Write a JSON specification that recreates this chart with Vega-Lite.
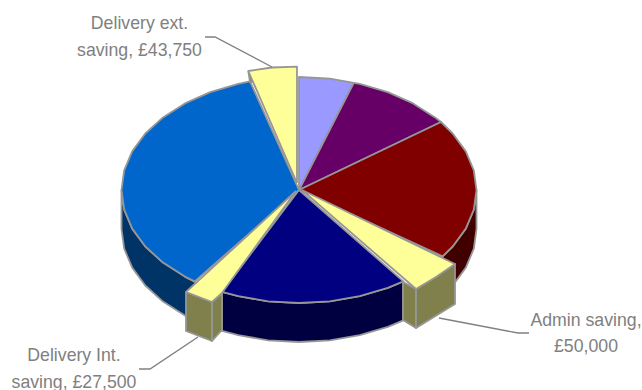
{
  "$schema": "https://vega.github.io/schema/vega-lite/v6.json",
  "autosize": {"type": "none"},
  "width": 642,
  "height": 390,
  "padding": 0,
  "background": "white",
  "view": {"stroke": null},
  "datasets": {
    "faces": [
      {"part":"Blue wall","i":0,"x":121.5,"y":190},{"part":"Blue wall","i":1,"x":124.2,"y":209.6},{"part":"Blue wall","i":2,"x":132.2,"y":228.6},{"part":"Blue wall","i":3,"x":145.3,"y":246.5},{"part":"Blue wall","i":4,"x":163,"y":262.6},{"part":"Blue wall","i":5,"x":184.9,"y":276.6},{"part":"Blue wall","i":6,"x":195,"y":282},{"part":"Blue wall","i":7,"x":195,"y":321},{"part":"Blue wall","i":8,"x":184.9,"y":315.6},{"part":"Blue wall","i":9,"x":163,"y":301.6},{"part":"Blue wall","i":10,"x":145.3,"y":285.5},{"part":"Blue wall","i":11,"x":132.2,"y":267.6},{"part":"Blue wall","i":12,"x":124.2,"y":248.6},{"part":"Blue wall","i":13,"x":121.5,"y":229},{"part":"Blue wall","i":14,"x":121.5,"y":190},

      {"part":"Navy wall","i":0,"x":403.3,"y":281.4},{"part":"Navy wall","i":1,"x":387.8,"y":287.9},{"part":"Navy wall","i":2,"x":359.7,"y":296.2},{"part":"Navy wall","i":3,"x":329.8,"y":301.3},{"part":"Navy wall","i":4,"x":299,"y":303},{"part":"Navy wall","i":5,"x":268.2,"y":301.3},{"part":"Navy wall","i":6,"x":238.3,"y":296.2},{"part":"Navy wall","i":7,"x":222,"y":291.8},{"part":"Navy wall","i":8,"x":222,"y":330.8},{"part":"Navy wall","i":9,"x":238.3,"y":335.2},{"part":"Navy wall","i":10,"x":268.2,"y":340.3},{"part":"Navy wall","i":11,"x":299,"y":342},{"part":"Navy wall","i":12,"x":329.8,"y":340.3},{"part":"Navy wall","i":13,"x":359.7,"y":335.2},{"part":"Navy wall","i":14,"x":387.8,"y":326.9},{"part":"Navy wall","i":15,"x":403.3,"y":320.4},{"part":"Navy wall","i":16,"x":403.3,"y":281.4},

      {"part":"Red wall","i":0,"x":476.5,"y":190},{"part":"Red wall","i":1,"x":473.8,"y":209.6},{"part":"Red wall","i":2,"x":465.8,"y":228.6},{"part":"Red wall","i":3,"x":452.7,"y":246.5},{"part":"Red wall","i":4,"x":442.6,"y":256.4},{"part":"Red wall","i":5,"x":442.6,"y":295.4},{"part":"Red wall","i":6,"x":452.7,"y":285.5},{"part":"Red wall","i":7,"x":465.8,"y":267.6},{"part":"Red wall","i":8,"x":473.8,"y":248.6},{"part":"Red wall","i":9,"x":476.5,"y":229},{"part":"Red wall","i":10,"x":476.5,"y":190},

      {"part":"Lilac","i":0,"x":299,"y":190},{"part":"Lilac","i":1,"x":299,"y":77},{"part":"Lilac","i":2,"x":329.8,"y":78.7},{"part":"Lilac","i":3,"x":353.8,"y":82.8},{"part":"Lilac","i":4,"x":299,"y":190},

      {"part":"Purple","i":0,"x":299,"y":190},{"part":"Purple","i":1,"x":353.8,"y":82.8},{"part":"Purple","i":2,"x":359.7,"y":83.8},{"part":"Purple","i":3,"x":387.8,"y":92.1},{"part":"Purple","i":4,"x":413.1,"y":103.4},{"part":"Purple","i":5,"x":435,"y":117.4},{"part":"Purple","i":6,"x":441,"y":122},{"part":"Purple","i":7,"x":299,"y":190},

      {"part":"Red","i":0,"x":299,"y":190},{"part":"Red","i":1,"x":441,"y":122},{"part":"Red","i":2,"x":452.7,"y":133.5},{"part":"Red","i":3,"x":465.8,"y":151.4},{"part":"Red","i":4,"x":473.8,"y":170.4},{"part":"Red","i":5,"x":476.5,"y":190},{"part":"Red","i":6,"x":473.8,"y":209.6},{"part":"Red","i":7,"x":465.8,"y":228.6},{"part":"Red","i":8,"x":452.7,"y":246.5},{"part":"Red","i":9,"x":442.6,"y":256.4},{"part":"Red","i":10,"x":299,"y":190},

      {"part":"Navy","i":0,"x":299,"y":190},{"part":"Navy","i":1,"x":403.3,"y":281.4},{"part":"Navy","i":2,"x":387.8,"y":287.9},{"part":"Navy","i":3,"x":359.7,"y":296.2},{"part":"Navy","i":4,"x":329.8,"y":301.3},{"part":"Navy","i":5,"x":299,"y":303},{"part":"Navy","i":6,"x":268.2,"y":301.3},{"part":"Navy","i":7,"x":238.3,"y":296.2},{"part":"Navy","i":8,"x":222,"y":291.8},{"part":"Navy","i":9,"x":299,"y":190},

      {"part":"Blue","i":0,"x":299,"y":190},{"part":"Blue","i":1,"x":194.7,"y":281.4},{"part":"Blue","i":2,"x":184.9,"y":276.6},{"part":"Blue","i":3,"x":163,"y":262.6},{"part":"Blue","i":4,"x":145.3,"y":246.5},{"part":"Blue","i":5,"x":132.2,"y":228.6},{"part":"Blue","i":6,"x":124.2,"y":209.6},{"part":"Blue","i":7,"x":121.5,"y":190},{"part":"Blue","i":8,"x":124.2,"y":170.4},{"part":"Blue","i":9,"x":132.2,"y":151.4},{"part":"Blue","i":10,"x":145.3,"y":133.5},{"part":"Blue","i":11,"x":163,"y":117.4},{"part":"Blue","i":12,"x":184.9,"y":103.4},{"part":"Blue","i":13,"x":210.3,"y":92.1},{"part":"Blue","i":14,"x":238.3,"y":83.8},{"part":"Blue","i":15,"x":250,"y":81.4},{"part":"Blue","i":16,"x":299,"y":190},

      {"part":"Int front","i":0,"x":186,"y":292},{"part":"Int front","i":1,"x":212,"y":302},{"part":"Int front","i":2,"x":212,"y":341},{"part":"Int front","i":3,"x":186,"y":331},{"part":"Int front","i":4,"x":186,"y":292},
      {"part":"Int end","i":0,"x":212,"y":302},{"part":"Int end","i":1,"x":222,"y":293},{"part":"Int end","i":2,"x":222,"y":330},{"part":"Int end","i":3,"x":212,"y":341},{"part":"Int end","i":4,"x":212,"y":302},
      {"part":"Int top","i":0,"x":296,"y":191},{"part":"Int top","i":1,"x":186,"y":292},{"part":"Int top","i":2,"x":212,"y":302},{"part":"Int top","i":3,"x":222,"y":293},{"part":"Int top","i":4,"x":296,"y":191},

      {"part":"Admin end","i":0,"x":403,"y":282},{"part":"Admin end","i":1,"x":416,"y":289},{"part":"Admin end","i":2,"x":416,"y":328},{"part":"Admin end","i":3,"x":403,"y":320},{"part":"Admin end","i":4,"x":403,"y":282},
      {"part":"Admin front","i":0,"x":416,"y":289},{"part":"Admin front","i":1,"x":455,"y":264},{"part":"Admin front","i":2,"x":455,"y":304},{"part":"Admin front","i":3,"x":416,"y":328},{"part":"Admin front","i":4,"x":416,"y":289},
      {"part":"Admin top","i":0,"x":302,"y":190},{"part":"Admin top","i":1,"x":455,"y":264},{"part":"Admin top","i":2,"x":436,"y":277},{"part":"Admin top","i":3,"x":416,"y":289},{"part":"Admin top","i":4,"x":302,"y":190},

      {"part":"Ext end","i":0,"x":248.3,"y":71},{"part":"Ext end","i":1,"x":250,"y":82},{"part":"Ext end","i":2,"x":254,"y":82},{"part":"Ext end","i":3,"x":248.3,"y":71},
      {"part":"Ext top","i":0,"x":297,"y":183},{"part":"Ext top","i":1,"x":248.3,"y":71},{"part":"Ext top","i":2,"x":272,"y":67.5},{"part":"Ext top","i":3,"x":297,"y":66.7},{"part":"Ext top","i":4,"x":297,"y":183}
    ],
    "leaders": [
      {"saving":"Delivery ext.","i":0,"x":205,"y":37},{"saving":"Delivery ext.","i":1,"x":215,"y":37},{"saving":"Delivery ext.","i":2,"x":272,"y":67},
      {"saving":"Admin","i":0,"x":439,"y":318},{"saving":"Admin","i":1,"x":518,"y":333},{"saving":"Admin","i":2,"x":529,"y":333},
      {"saving":"Delivery Int.","i":0,"x":198,"y":337},{"saving":"Delivery Int.","i":1,"x":150,"y":369},{"saving":"Delivery Int.","i":2,"x":139,"y":369}
    ],
    "labels": [
      {"label":"Delivery ext.\nsaving, £43,750","x":139.5,"y":24},
      {"label":"Admin saving,\n£50,000","x":586,"y":320.5},
      {"label":"Delivery Int.\nsaving, £27,500","x":74,"y":356}
    ]
  },
  "layer": [
    {
      "data": {"name": "faces"},
      "mark": {"type": "line", "stroke": "#969696", "strokeWidth": 1.8, "strokeJoin": "round"},
      "encoding": {
        "x": {"field": "x", "type": "quantitative", "scale": {"domain": [0, 642], "nice": false, "zero": false}, "axis": null},
        "y": {"field": "y", "type": "quantitative", "scale": {"domain": [390, 0], "nice": false, "zero": false}, "axis": null},
        "detail": {"field": "part"},
        "order": {"field": "i", "type": "quantitative"},
        "fill": {
          "field": "part",
          "type": "nominal",
          "legend": null,
          "scale": {
            "domain": ["Blue wall","Navy wall","Red wall","Lilac","Purple","Red","Navy","Blue","Int front","Int end","Int top","Admin end","Admin front","Admin top","Ext end","Ext top"],
            "range": ["#003366","#000040","#400000","#9999FF","#660066","#800000","#000080","#0066CC","#80804D","#80804D","#FFFF99","#80804D","#80804D","#FFFF99","#80804D","#FFFF99"]
          }
        }
      }
    },
    {
      "data": {"name": "leaders"},
      "mark": {"type": "line", "stroke": "#808080", "strokeWidth": 1.4},
      "encoding": {
        "x": {"field": "x", "type": "quantitative", "axis": null},
        "y": {"field": "y", "type": "quantitative", "axis": null},
        "detail": {"field": "saving"},
        "order": {"field": "i", "type": "quantitative"}
      }
    },
    {
      "data": {"name": "labels"},
      "mark": {"type": "text", "font": "Liberation Sans", "fontSize": 17.7, "lineHeight": 26.5, "lineBreak": "\n", "align": "center", "baseline": "middle", "color": "#808080"},
      "encoding": {
        "x": {"field": "x", "type": "quantitative", "axis": null},
        "y": {"field": "y", "type": "quantitative", "axis": null},
        "text": {"field": "label"}
      }
    }
  ]
}
